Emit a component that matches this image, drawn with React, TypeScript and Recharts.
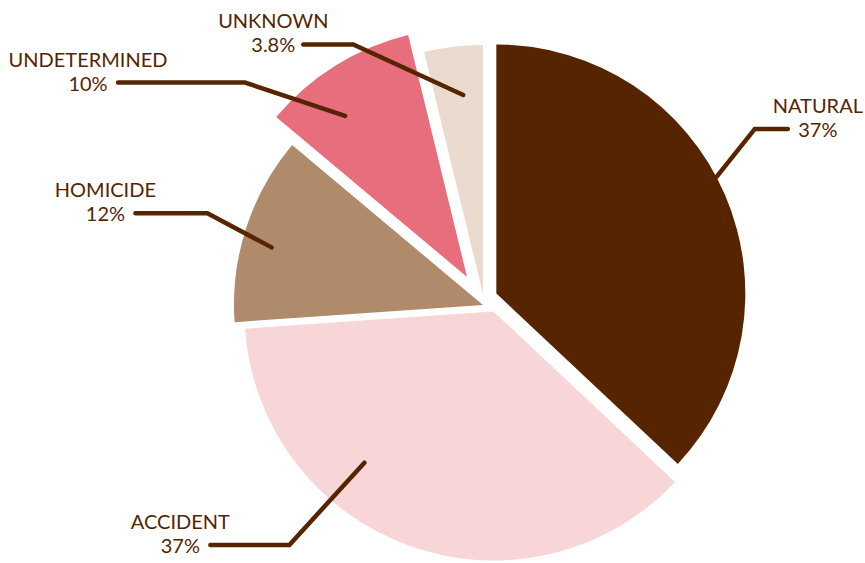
import React from 'react';
import { PieChart, Pie, Sector } from 'recharts';

// ---- data ----
const categories = ['NATURAL', 'ACCIDENT', 'HOMICIDE', 'UNDETERMINED', 'UNKNOWN'];
const shares = [37.0, 36.9, 12.2, 10.1, 3.8];

// ---- style ----
const COLORS = ['#562500', '#f8d5d6', '#b08b6b', '#e76f7d', '#ebdace'];
const INK = '#562500';
// slice explode: distance and rotation of the explode direction relative to the slice's mid angle
const EXPLODE = [
  { d: 13.7, rot: 23.7 },
  { d: 10.3, rot: 58.7 },
  { d: 4.3, rot: 38.6 },
  { d: 33.2, rot: 5.1 },
  { d: 10.3, rot: 16 },
];
// leader lines: [radius factor of outerRadius, angle deg] for start and elbow, then horizontal run
const LEADERS = [
  { s: [1.054, 28.9], e: [1.284, 33.1], run: 33 },
  { s: [0.807, -127.6], e: [1.253, -129.3], run: -79 },
  { s: [0.894, 165.4], e: [1.18, 162.1], run: -72 },
  { s: [0.945, 127.1], e: [1.316, 137.6], run: -127 },
  { s: [0.843, 96.5], e: [1.171, 117.3], run: -50 },
];

const data = categories.map((name, i) => ({ name, value: shares[i] }));

const RAD = Math.PI / 180;
const polar = (cx: number, cy: number, r: number, a: number) => ({
  x: cx + r * Math.cos(a * RAD),
  y: cy - r * Math.sin(a * RAD),
});

const fmt = (v: number) => (v < 10 ? v.toFixed(1) : Math.round(v).toString()) + '%';

const renderSlice = (props: any) => {
  const { cx, cy, outerRadius, startAngle, endAngle, midAngle, index, value, name } = props;
  const ex = EXPLODE[index];
  const off = polar(0, 0, ex.d, midAngle + ex.rot);
  const L = LEADERS[index];
  const p1 = polar(cx, cy, outerRadius * L.s[0], L.s[1]);
  const p2 = polar(cx, cy, outerRadius * L.e[0], L.e[1]);
  const p3 = { x: p2.x + L.run, y: p2.y };
  const tx = p3.x + (L.run > 0 ? 30 : -30);
  return (
    <g key={`slice-${index}`}>
      <Sector
        cx={cx + off.x}
        cy={cy + off.y}
        innerRadius={0}
        outerRadius={outerRadius}
        startAngle={startAngle}
        endAngle={endAngle}
        fill={COLORS[index]}
        stroke="none"
      />
      <polyline
        points={`${p1.x},${p1.y} ${p2.x},${p2.y} ${p3.x},${p3.y}`}
        fill="none"
        stroke={INK}
        strokeWidth={4.5}
        strokeLinecap="round"
        strokeLinejoin="miter"
      />
      <text x={tx} y={p3.y - 16} textAnchor="middle" fill={INK} fontFamily="Lato" fontSize={20}>
        {name}
      </text>
      <text x={tx} y={p3.y + 8} textAnchor="middle" fill={INK} fontFamily="Lato" fontSize={20}>
        {fmt(value)}
      </text>
    </g>
  );
};

export default function App() {
  return (
    <div style={{ position: 'absolute', left: 0, top: 0, width: 865, height: 563, background: '#ffffff' }}>
      <PieChart width={865} height={563} margin={{ top: 0, right: 0, bottom: 0, left: 0 }}>
        <Pie
          data={data}
          dataKey="value"
          nameKey="name"
          cx={487}
          cy={303.5}
          innerRadius={0}
          outerRadius={249}
          startAngle={90}
          endAngle={-270}
          fill="transparent"
          stroke="none"
          labelLine={false}
          label={renderSlice}
          isAnimationActive={false}
        />
      </PieChart>
    </div>
  );
}
